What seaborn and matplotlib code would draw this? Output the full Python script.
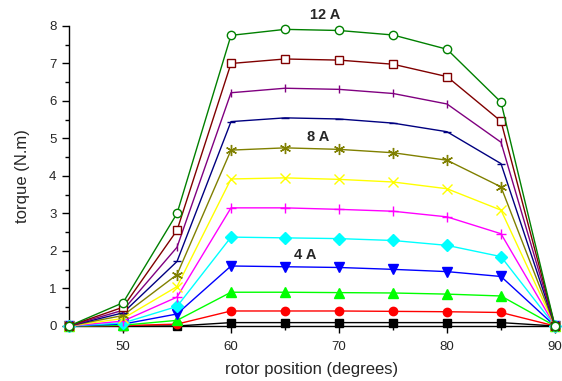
import matplotlib
matplotlib.use("Agg")
import matplotlib.pyplot as plt
import seaborn as sns
import pandas as pd
from matplotlib.ticker import MultipleLocator

positions = [45, 50, 55, 60, 65, 70, 75, 80, 85, 90]

i1 = [0, 0.00, 0.00, 0.09, 0.09, 0.09, 0.09, 0.09, 0.09, 0]
i2 = [0, 0.01, 0.05, 0.40, 0.40, 0.40, 0.39, 0.38, 0.36, 0]
i3 = [0, 0.02, 0.15, 0.90, 0.90, 0.89, 0.88, 0.85, 0.80, 0]
i4 = [0, 0.05, 0.32, 1.60, 1.58, 1.56, 1.51, 1.45, 1.32, 0]
i5 = [0, 0.08, 0.52, 2.37, 2.35, 2.33, 2.28, 2.15, 1.85, 0]
i6 = [0, 0.13, 0.77, 3.15, 3.15, 3.11, 3.06, 2.91, 2.46, 0]
i7 = [0, 0.20, 1.05, 3.92, 3.95, 3.91, 3.84, 3.66, 3.09, 0]
i8 = [0, 0.28, 1.37, 4.69, 4.75, 4.71, 4.62, 4.42, 3.71, 0]
i9 = [0, 0.35, 1.72, 5.45, 5.55, 5.52, 5.41, 5.18, 4.33, 0]
i10 = [0, 0.42, 2.10, 6.22, 6.34, 6.31, 6.20, 5.92, 4.90, 0]
i11 = [0, 0.50, 2.55, 7.00, 7.12, 7.09, 6.98, 6.65, 5.46, 0]
i12 = [0, 0.62, 3.00, 7.75, 7.91, 7.88, 7.76, 7.38, 5.97, 0]

currents = ["1 A", "2 A", "3 A", "4 A", "5 A", "6 A", "7 A", "8 A", "9 A", "10 A", "11 A", "12 A"]
series = [i1, i2, i3, i4, i5, i6, i7, i8, i9, i10, i11, i12]

annot_labels = ["12 A", "8 A", "4 A"]
annot_x = [68.7, 68.05, 66.85]
annot_y = [8.29, 5.04, 1.89]

colors = ["#000000", "#FF0000", "#00FF00", "#0000FF", "#00FFFF", "#FF00FF",
          "#FFFF00", "#808000", "#000080", "#800080", "#800000", "#008000"]
markers = ["s", "o", "^", "v", "D", "+", "x", (6, 2, 0), "_", "|", "s", "o"]
msizes = [6, 6, 7, 7, 6, 7, 7, 8, 6, 6, 6, 6]
filled = [True] * 10 + [False, False]

rows = []
for name, vals in zip(currents, series):
    for p, v in zip(positions, vals):
        rows.append({"current": name, "position": p, "torque": v})
df = pd.DataFrame(rows)

sns.set_style("ticks")
plt.rcParams["font.family"] = ["Liberation Sans", "DejaVu Sans"]

fig = plt.figure(figsize=(5.62, 3.81), dpi=100)
ax = fig.add_axes([0.1228, 0.1444, 0.8647, 0.7874])

for k, name in enumerate(currents):
    sub = df[df["current"] == name]
    kw = dict(marker=markers[k], markersize=msizes[k], markeredgecolor=colors[k],
              markeredgewidth=1.0, clip_on=False, zorder=3 + k * 0.01)
    kw["markerfacecolor"] = colors[k] if filled[k] else "white"
    sns.lineplot(data=sub, x="position", y="torque", color=colors[k], linewidth=1.0,
                 ax=ax, legend=False, **kw)

for t, x, y in zip(annot_labels, annot_x, annot_y):
    ax.text(x, y, t, fontsize=10.5, fontweight="bold", ha="center", va="center")

ax.set_xlim(45, 90)
ax.set_ylim(0, 8)
ax.xaxis.set_major_locator(MultipleLocator(10))
ax.xaxis.set_minor_locator(MultipleLocator(5))
ax.yaxis.set_major_locator(MultipleLocator(1))
ax.yaxis.set_minor_locator(MultipleLocator(0.5))
ax.set_xticks([50, 60, 70, 80, 90])
ax.tick_params(axis="both", which="major", length=5, width=1.0, labelsize=9.5,
               direction="out", color="black", pad=4)
ax.tick_params(axis="x", which="major", pad=6)
ax.tick_params(axis="both", which="minor", length=3, width=1.0, direction="out", color="black")
for s in ["top", "right"]:
    ax.spines[s].set_visible(False)
for s in ["left", "bottom"]:
    ax.spines[s].set_color("black")
    ax.spines[s].set_linewidth(1.0)

ax.set_xlabel("rotor position (degrees)", fontsize=12)
ax.set_ylabel("torque (N.m)", fontsize=12)
ax.xaxis.labelpad = 6
ax.yaxis.labelpad = 14

fig.savefig("out.png", dpi=100)
